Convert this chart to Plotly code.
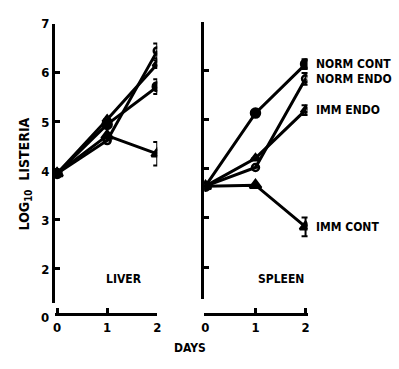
import plotly.graph_objects as go

W, H = 399, 369

days = [0, 1, 2]
day_labels = ["0", "1", "2"]
y_ticks = [2, 3, 4, 5, 6, 7]
y_tick_labels = ["2", "3", "4", "5", "6", "7"]
y_break_label = "0"

series_names = ["NORM CONT", "NORM ENDO", "IMM ENDO", "IMM CONT"]

liver_norm_cont = [3.95, 4.95, 5.72]
liver_norm_endo = [3.95, 4.62, 6.45]
liver_imm_endo = [3.95, 5.05, 6.18]
liver_imm_cont = [3.95, 4.72, 4.35]
liver_err = [[None, None, 0.15], [None, None, 0.15], [None, None, 0.08], [None, None, 0.24]]

spleen_norm_cont = [3.65, 5.14, 6.14]
spleen_norm_endo = [3.65, 4.03, 5.84]
spleen_imm_endo = [3.65, 4.22, 5.20]
spleen_imm_cont = [3.65, 3.67, 2.82]
spleen_err = [[None, None, 0.10], [None, None, 0.12], [None, None, 0.10], [None, None, 0.19]]

liver = [liver_norm_cont, liver_norm_endo, liver_imm_endo, liver_imm_cont]
spleen = [spleen_norm_cont, spleen_norm_endo, spleen_imm_endo, spleen_imm_cont]
symbols = ["circle", "circle-open", "triangle-up-open", "triangle-up"]
sizes = [9, 7, 8, 10]

FONT = "DejaVu Sans Condensed, Liberation Sans Narrow, DejaVu Sans, sans-serif"

def fx(px):
    return px / W

def fy(py):
    return 1 - py / H

fig = go.Figure()

for panel, (data, errs, xa, ya) in enumerate([(liver, liver_err, "x", "y"), (spleen, spleen_err, "x2", "y2")]):
    for i in range(4):
        fig.add_trace(go.Scatter(
            x=days, y=data[i], xaxis=xa, yaxis=ya,
            mode="lines+markers", name=series_names[i], showlegend=False,
            line=dict(color="black", width=3),
            marker=dict(symbol=symbols[i], size=sizes[i], color="black",
                        line=dict(color="black", width=2.5)),
            error_y=dict(type="data", array=errs[i], symmetric=True, visible=True,
                         color="black", thickness=2, width=4),
        ))

axis_common = dict(showline=True, linecolor="black", linewidth=3, ticks="inside",
                   tickcolor="black", tickwidth=2.5, ticklen=5, showgrid=False,
                   zeroline=False, tickfont=dict(family=FONT, size=13, color="black", weight="bold"))

fig.update_layout(
    width=W, height=H, margin=dict(l=0, r=0, t=0, b=0),
    paper_bgcolor="white", plot_bgcolor="white",
    xaxis=dict(domain=[fx(53), fx(157)], range=[-0.04, 2.0], anchor="free", position=fy(313),
               tickvals=days, ticktext=day_labels, **axis_common),
    yaxis=dict(domain=[fy(302), fy(17)], range=[1.3, 7.005], anchor="x",
               tickvals=y_ticks, ticktext=y_tick_labels, **axis_common),
    xaxis2=dict(domain=[fx(205), fx(310)], range=[-0.02, 2.04], anchor="free", position=fy(313),
                tickvals=days, ticktext=day_labels, **axis_common),
    yaxis2=dict(domain=[fy(298), fy(15)], range=[1.34, 7.005], anchor="x2",
                tickvals=y_ticks, showticklabels=False, **axis_common),
)

tfont = dict(family=FONT, size=12, color="black", weight="bold")
ann = []
# legend labels next to spleen day-2 points
for i in range(4):
    ann.append(dict(x=days[-1], y=spleen[i][-1], xref="x2", yref="y2", text=series_names[i],
                    showarrow=False, xanchor="left", yanchor="middle", xshift=8, font=tfont))
ann.append(dict(x=fx(43), y=fy(316), xref="paper", yref="paper", text=y_break_label,
                showarrow=False, xanchor="center", yanchor="middle",
                font=dict(family=FONT, size=13, color="black", weight="bold")))
ann.append(dict(x=fx(123), y=fy(277), xref="paper", yref="paper", text="LIVER",
                showarrow=False, xanchor="center", yanchor="middle", font=tfont))
ann.append(dict(x=fx(283), y=fy(277), xref="paper", yref="paper", text="SPLEEN",
                showarrow=False, xanchor="center", yanchor="middle", font=tfont))
ann.append(dict(x=fx(190), y=fy(348), xref="paper", yref="paper", text="DAYS",
                showarrow=False, xanchor="center", yanchor="middle", font=tfont))
ann.append(dict(x=fx(22), y=fy(170), xref="paper", yref="paper", text="LOG<sub>10</sub>  LISTERIA",
                showarrow=False, textangle=-90, xanchor="center", yanchor="middle",
                font=dict(family=FONT, size=14, color="black", weight="bold")))
fig.update_layout(annotations=ann)

fig.write_html("out.html")
